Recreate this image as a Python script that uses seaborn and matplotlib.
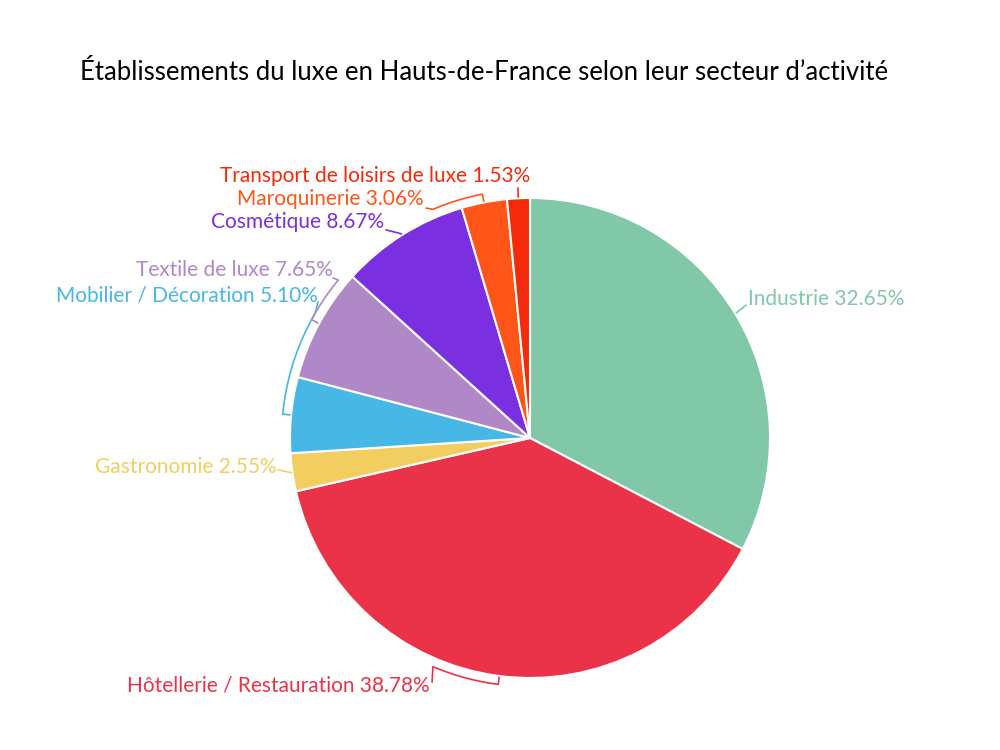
import numpy as np
import matplotlib
matplotlib.use("Agg")
import matplotlib.pyplot as plt
import seaborn as sns

# Data
sectors = ["Industrie", "Hôtellerie / Restauration", "Gastronomie",
           "Mobilier / Décoration", "Textile de luxe", "Cosmétique",
           "Maroquinerie", "Transport de loisirs de luxe"]
shares = [32.65, 38.78, 2.55, 5.10, 7.65, 8.67, 3.06, 1.53]
colors = ["#80c8a8", "#ea3349", "#f2ce60", "#47b7e6",
          "#b088c7", "#7a2fe0", "#ff5518", "#f52a0b"]

title = "Établissements du luxe en Hauts-de-France selon leur secteur d’activité"

# label layout: text anchor (x, y, ha), line start, and angle where the crooked line bends
label_pos = [(0.908, 0.579, "left"), (-0.417, -1.033, "right"), (-1.054, -0.121, "right"),
             (-0.883, 0.592, "right"), (-0.821, 0.700, "right"), (-0.608, 0.900, "right"),
             (-0.442, 0.996, "right"), (0.0, 1.092, "right")]
line_start = [(0.900, 0.554), (-0.408, -1.017), (-1.050, -0.133),
              (-0.883, 0.567), (-0.821, 0.667), (-0.600, 0.867),
              (-0.433, 0.958), (-0.050, 1.042)]
bend_angle = [None, 203.0, None, 300.0, 309.5, None, 337.0, None]

sns.set_theme(style="white")
plt.rcParams["font.family"] = ["Lato", "DejaVu Sans"]

fig = plt.figure(figsize=(10, 7.5), dpi=100)
ax = fig.add_axes([0.53 - 0.24, 0.416 - 0.32, 0.48, 0.64])

ax.pie(shares, colors=colors, startangle=90, counterclock=False, radius=1.0,
       wedgeprops=dict(edgecolor="white", linewidth=1.5))
ax.set_xlim(-1, 1)
ax.set_ylim(-1, 1)
ax.set_aspect("equal")
ax.axis("off")


def polar(r, theta):
    # theta in degrees, clockwise from the top
    t = np.radians(theta)
    return r * np.sin(t), r * np.cos(t)


cum = np.cumsum([0] + shares[:-1])
for i, name in enumerate(sectors):
    mid = (cum[i] + shares[i] / 2) / 100 * 360
    tx, ty, ha = label_pos[i]
    ax.text(tx, ty, f"{name} {shares[i]:.2f}%", color=colors[i], fontsize=15,
            ha=ha, va="center", clip_on=False)
    xs, ys = [line_start[i][0]], [line_start[i][1]]
    if bend_angle[i] is not None:
        arc = np.linspace(bend_angle[i], mid, 30)
        px, py = polar(1.035, arc)
        xs += list(px)
        ys += list(py)
    ex, ey = polar(1.005, mid)
    xs.append(ex)
    ys.append(ey)
    ax.plot(xs, ys, color=colors[i], linewidth=1.2, clip_on=False)

fig.text(0.484, 1 - 72 / 750, title, ha="center", va="center", fontsize=18.5, color="black")

fig.savefig("out.png", dpi=100, facecolor="white")
